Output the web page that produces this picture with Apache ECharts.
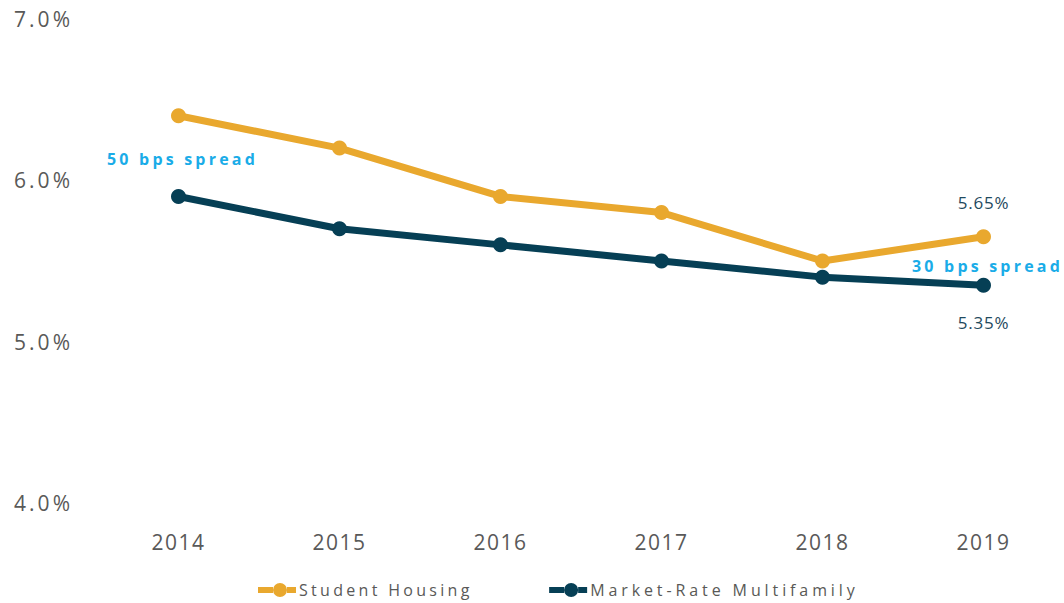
<!DOCTYPE html>
<html>
<head>
<meta charset="utf-8">
<script src="https://cdn.jsdelivr.net/npm/echarts@6/dist/echarts.min.js"></script>
<style>
html,body{margin:0;padding:0;background:#fff;}
#chart{width:1064px;height:603px;}
/* spaced text, svg renderer */
#chart text[fill="#595958"]{letter-spacing:3px;}
#chart text[fill="#595959"]{letter-spacing:1.5px;}
#chart text[fill="#595957"]{letter-spacing:3.3px;}
#chart text[fill="#595956"]{letter-spacing:3.9px;}
#chart text[fill="#1aace8"]{letter-spacing:3.2px;}
#chart text[fill="#1f4a5e"]{letter-spacing:0.8px;}
</style>
</head>
<body>
<div id="chart"></div>
<script>
var years=['2014','2015','2016','2017','2018','2019'];
var studentData=[6.40,6.20,5.90,5.80,5.50,5.65];
var multiData=[5.90,5.70,5.60,5.50,5.40,5.35];
var yTicks=[4,5,6,7];
// spread notes: text, year, y value
var spreadNotes=[['50 bps spread','2014',6.13],['30 bps spread','2019',5.47]];

var orange='#E9A82E';
var navy='#063F55';
//legend icon: bar with dot
var legendIcon='path://M0,4L15,4L15,10L0,10Z M15,7A7,7 0 1 1 29,7A7,7 0 1 1 15,7Z M29,4L38,4L38,10L29,10Z';

var chart=echarts.init(document.getElementById('chart'),null,{renderer:'svg'});

var studentPts=studentData.map(function(v,i){
	if(i==studentData.length-1){
		return {value:v,label:{show:true,position:'top',distance:18,formatter:v.toFixed(2)+'%'}};
	}
	return v;
});
var multiPts=multiData.map(function(v,i){
	if(i==multiData.length-1){
		return {value:v,label:{show:true,position:'bottom',distance:21,formatter:v.toFixed(2)+'%'}};
	}
	return v;
});

var option={
	animation:false,
	grid:{left:98,right:0,top:19,bottom:100},
	legend:{
		bottom:0,
		left:253,
		itemGap:126,
		itemWidth:38,
		itemHeight:14,
		textStyle:{color:'#595957',fontSize:16,fontFamily:'Open Sans',padding:[0,0,0,-2]},
		data:[
			{name:'Student Housing',icon:legendIcon},
			{name:'Market-Rate Multifamily',icon:legendIcon,textStyle:{color:'#595956'}}
		]
	},
	xAxis:{
		type:'category',
		data:years,
		axisLine:{show:false},
		axisTick:{show:false},
		axisLabel:{color:'#595959',fontSize:21,margin:28,fontFamily:'Open Sans'}
	},
	yAxis:{
		type:'value',
		min:yTicks[0],
		max:yTicks[yTicks.length-1],
		interval:1,
		splitLine:{show:false},
		axisLabel:{
			color:'#595958',fontSize:21,margin:25,fontFamily:'Open Sans',
			formatter:function(v){return v.toFixed(1)+'%';}
		}
	},
	series:[{
		name:'Student Housing',
		type:'line',
		data:studentPts,
		symbol:'circle',
		symbolSize:15,
		lineStyle:{width:7,color:orange},
		itemStyle:{color:orange},
		label:{color:'#1f4a5e',fontSize:17,fontFamily:'Open Sans'},
		markPoint:{
			symbol:'circle',
			symbolSize:0,
			label:{show:true,position:'inside',offset:[4,0],color:'#1aace8',fontSize:16,fontWeight:'bold',fontFamily:'Open Sans',
				formatter:function(p){return p.name;}},
			data:spreadNotes.map(function(n){return {name:n[0],coord:[n[1],n[2]]};})
		}
	},{
		name:'Market-Rate Multifamily',
		type:'line',
		data:multiPts,
		symbol:'circle',
		symbolSize:15,
		lineStyle:{width:7,color:navy},
		itemStyle:{color:navy},
		label:{color:'#1f4a5e',fontSize:17,fontFamily:'Open Sans'}
	}]
};
chart.setOption(option);
</script>
</body>
</html>
